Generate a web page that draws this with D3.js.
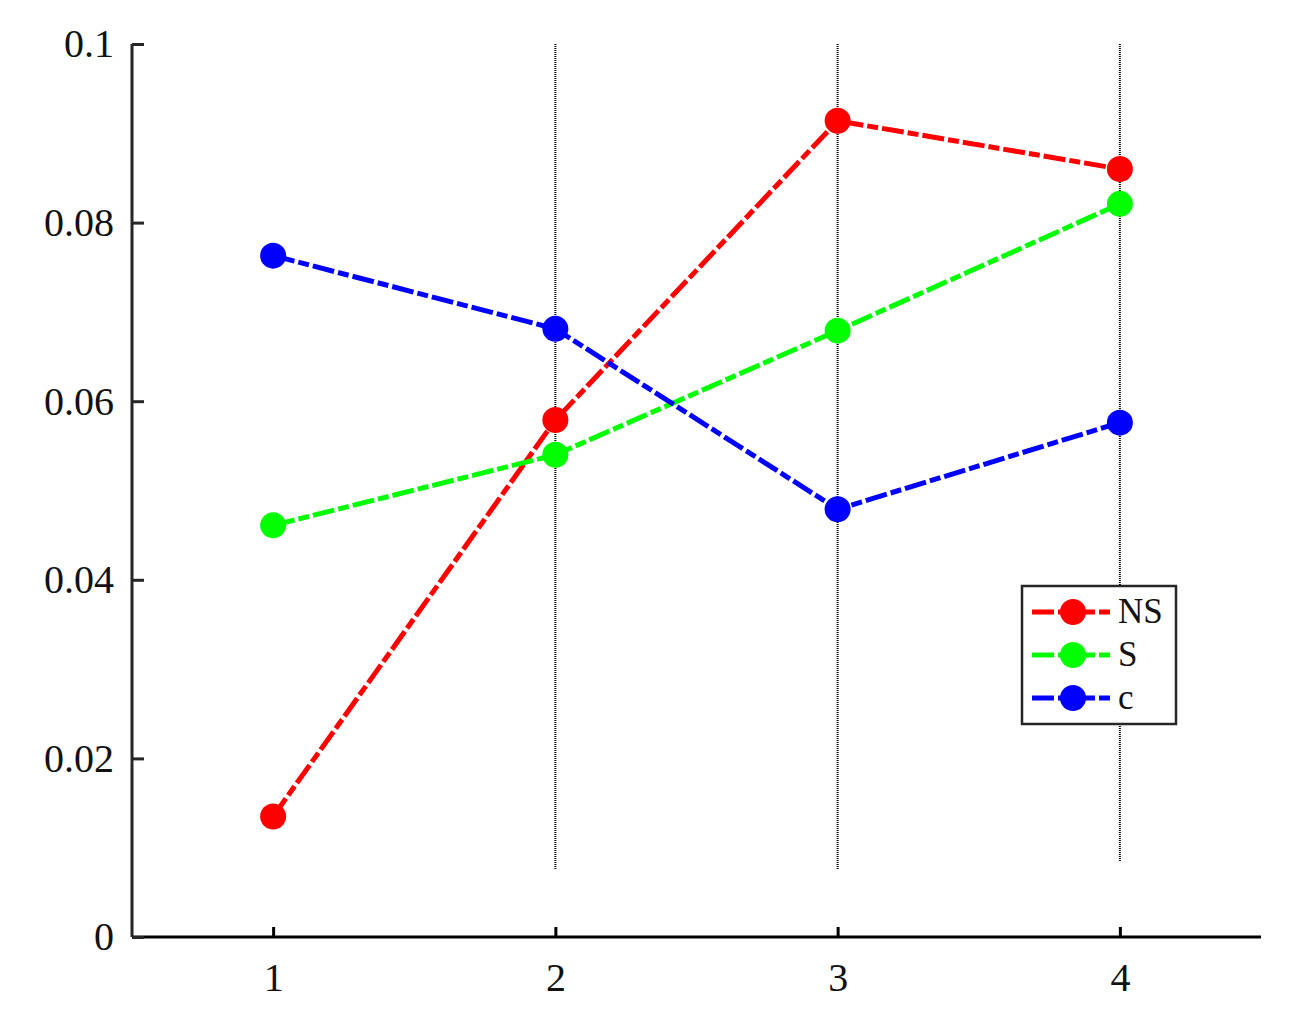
<!DOCTYPE html>
<html>
  <head>
    <meta charset="utf-8">
    <script src="https://cdnjs.cloudflare.com/ajax/libs/d3/7.8.5/d3.min.js"></script>
    <style>
      body { margin: 0; background: #fff; }
      text { font-family: "Liberation Serif", "Times New Roman", serif; }
    </style>
  </head>
  <body>
    <script>
      var categories = [1, 2, 3, 4];
      var seriesNames = ["NS", "S", "c"];
      var seriesColors = ["#ff0000", "#00ff00", "#0000ff"];
      var nsValues = [0.0135, 0.0579, 0.0914, 0.0860];
      var sValues = [0.0461, 0.0540, 0.0679, 0.0821];
      var cValues = [0.0763, 0.0681, 0.0479, 0.0576];
      var yTicks = [0, 0.02, 0.04, 0.06, 0.08, 0.1];
      var yTickLabels = ["0", "0.02", "0.04", "0.06", "0.08", "0.1"];
      // gray vertical lines at x = 2, 3, 4 (they stop short of the axis)
      var vlineX = [2, 3, 4];
      var vlineBottom = [0.0076, 0.0076, 0.0084];

      var svg = d3.select("body").append("svg")
                  .attr("width", 1290)
                  .attr("height", 1020);

      var x = d3.scaleLinear().domain([0.5, 4.5]).range([132, 1261]);
      var y = d3.scaleLinear().domain([0, 0.1]).range([937, 44]);
      var dash = "22,4,11,4";

      svg.selectAll(".vline")
         .data(vlineX)
         .enter()
         .append("line")
         .attr("x1", function (d) { return x(d); })
         .attr("x2", function (d) { return x(d); })
         .attr("y1", y(0.1))
         .attr("y2", function (d, i) { return y(vlineBottom[i]); })
         .style("stroke", "#000")
         .style("stroke-width", 2)
         .style("stroke-dasharray", "1,1");

      // axes
      var xAxis = d3.axisBottom(x).tickValues(categories).tickSize(-10).tickPadding(26)
                    .tickFormat(d3.format("d"));
      var gx = svg.append("g").attr("transform", "translate(0," + y(0) + ")").call(xAxis);
      gx.select(".domain").attr("d", "M" + x(0.5) + ",0H" + x(4.5))
        .style("stroke", "#000").style("stroke-width", 3);
      gx.selectAll(".tick line").style("stroke", "#000").style("stroke-width", 3);
      gx.selectAll(".tick text").style("font-size", "40px").style("fill", "#111");

      var yAxis = d3.axisLeft(y).tickValues(yTicks).tickSize(-12).tickPadding(18)
                    .tickFormat(function (d, i) { return yTickLabels[i]; });
      var gy = svg.append("g").attr("transform", "translate(" + x(0.5) + ",0)").call(yAxis);
      gy.select(".domain").attr("d", "M0," + y(0) + "V" + y(0.1))
        .style("stroke", "#262626").style("stroke-width", 3);
      gy.selectAll(".tick line").style("stroke", "#262626").style("stroke-width", 3);
      gy.selectAll(".tick text").style("font-size", "40px").style("fill", "#111");

      // series
      var series = [nsValues, sValues, cValues];
      var line = d3.line()
                   .x(function (d, i) { return x(categories[i]); })
                   .y(function (d) { return y(d); });

      series.forEach(function (vals, k) {
        svg.append("path")
           .attr("d", line(vals))
           .style("fill", "none")
           .style("stroke", seriesColors[k])
           .style("stroke-width", 5)
           .style("stroke-dasharray", dash);
        svg.selectAll(".pt" + k)
           .data(vals)
           .enter()
           .append("circle")
           .attr("cx", function (d, i) { return x(categories[i]); })
           .attr("cy", function (d) { return y(d); })
           .attr("r", 13)
           .style("fill", seriesColors[k]);
      });

      // legend
      var legend = svg.append("g").attr("transform", "translate(1022,586)");
      legend.append("rect")
            .attr("width", 154).attr("height", 138)
            .style("fill", "#fff").style("stroke", "#262626").style("stroke-width", 2.5);
      seriesNames.forEach(function (name, k) {
        var ly = 26 + k * 43;
        legend.append("line")
              .attr("x1", 10).attr("x2", 88).attr("y1", ly).attr("y2", ly)
              .style("stroke", seriesColors[k]).style("stroke-width", 5)
              .style("stroke-dasharray", dash);
        legend.append("circle").attr("cx", 51).attr("cy", ly).attr("r", 13)
              .style("fill", seriesColors[k]);
        legend.append("text").attr("x", 96).attr("y", ly + 11)
              .style("font-size", "35px").style("fill", "#111").text(name);
      });
    </script>
  </body>
</html>
